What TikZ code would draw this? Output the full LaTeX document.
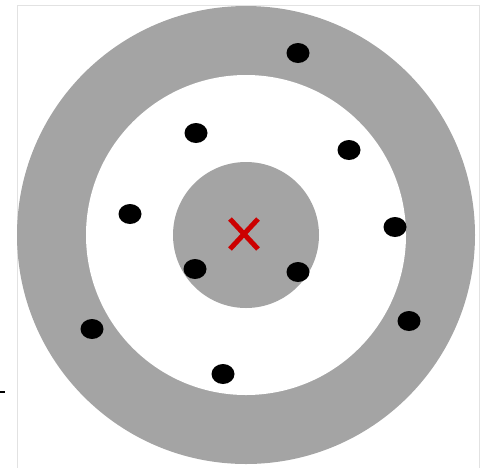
\documentclass[tikz,border=0pt]{standalone}
\usepackage{xcolor}
\usepackage{tikz}
\definecolor{ring}{HTML}{A4A4A4}
\definecolor{frame}{HTML}{E2E2E2}
\definecolor{mark}{HTML}{CC0000}

\begin{document}
\begin{tikzpicture}[x=1pt, y=-1pt,
  dot/.style={fill=black},
  cross/.style={line width=5pt, color=mark}]
  \useasboundingbox (0,0) rectangle (484,467);
  \draw[frame, line width=1pt] (17,470) -- (17,5) -- (479,5) -- (479,470);
  \draw[line width=2pt] (0,392) -- (5,392);
  % rings
  \fill[ring]  (246,235) circle[radius=229pt];
  \fill[white] (246,235) circle[radius=160pt];
  \fill[ring]  (246,235) circle[radius=73pt];
  % centre mark
  \coordinate (c) at (244,234);
  \draw[cross] ([shift={(-14pt,-15pt)}]c) -- ([shift={(14pt,15pt)}]c);
  \draw[cross] ([shift={(-14pt,15pt)}]c) -- ([shift={(14pt,-15pt)}]c);
  % dots
  \foreach \x/\y in {298/53,196/133,349/150,130/214,395/227,
                     195/269,298/272,92/329,409/321,223/374}
    {\fill[dot] (\x,\y) ellipse[x radius=11.5pt, y radius=10pt];}
\end{tikzpicture}
\end{document}
